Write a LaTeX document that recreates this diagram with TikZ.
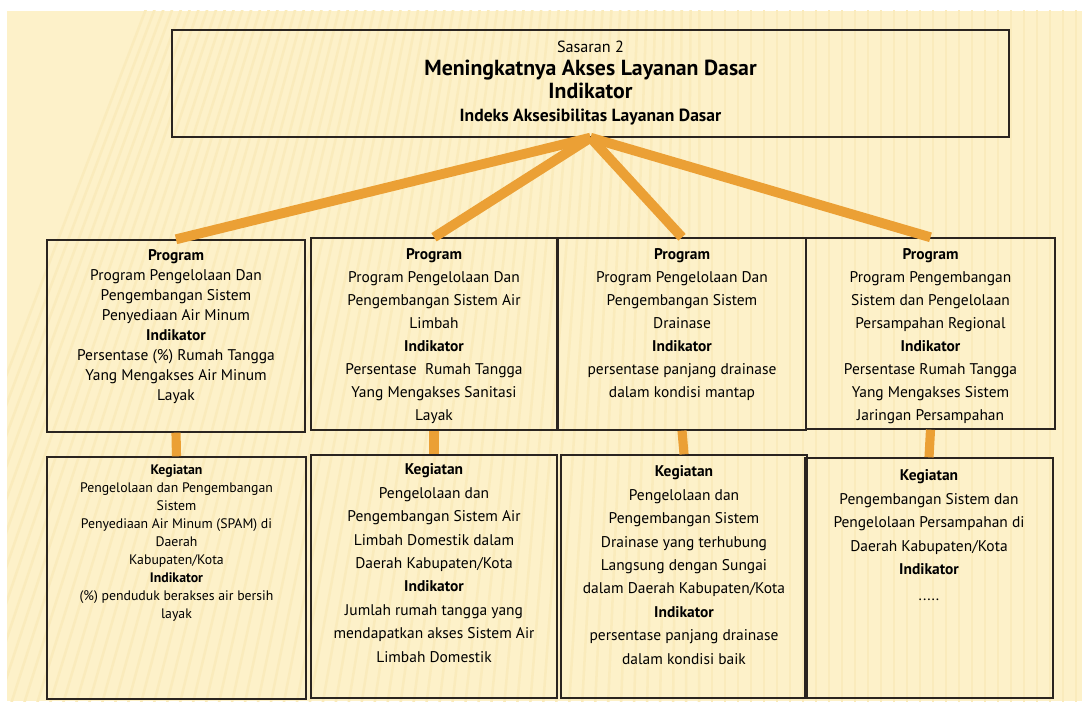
\documentclass[tikz,border=0pt]{standalone}
\usepackage{fontspec}
\setmainfont{PT Sans}
\usetikzlibrary{positioning}

\definecolor{cream}{HTML}{FDF1C9}
\definecolor{stripe}{HTML}{FAEBBC}
\definecolor{linkorange}{HTML}{EBA035}
\definecolor{boxline}{HTML}{2A2420}

\newdimen\px \px=0.025cm

\tikzset{
  box/.style={draw=boxline, line width=1pt, inner sep=0pt},
  link/.style={linkorange, line width=7pt},
  uplink/.style={linkorange, line width=6.5pt},
  prgtxt/.style={align=center, inner sep=0pt, font=\fontsize{11}{16.3}\selectfont},
  kgttxt/.style={align=center, inner sep=0pt, font=\fontsize{11}{16.7}\selectfont},
}

\begin{document}
\begin{tikzpicture}[x=1\px, y=-1\px]

%%%%%%%%%%%%%%%%%%%%%%%%%%%%%%%%%%%%%%%%%%%%%%%%%%%%%%%%%%%%%%%%%%%%%%%%%%%%%%%
%                                                                             %
%   Sasaran 2 with its four programs and the kegiatan under each program      %
%   (one pixel of the slide is one unit)                                      %
%                                                                             %
%%%%%%%%%%%%%%%%%%%%%%%%%%%%%%%%%%%%%%%%%%%%%%%%%%%%%%%%%%%%%%%%%%%%%%%%%%%%%%%

    %Slide background with its faint stripes
    \useasboundingbox (0,0) rectangle (1082,707);
    \fill[white] (0,0) rectangle (1082,707);
    \fill[cream] (7,11) rectangle (1082,701);
    \begin{scope}
        \clip (7,11) rectangle (1082,701);
        \foreach \i in {0,...,95} {
            \pgfmathsetmacro{\xb}{\i*13-120}
            \pgfmathsetmacro{\xt}{\xb+max(0,230*(1-\xb/700))}
            \draw[stripe, line width=1.8pt] (\xb,707) -- (\xt,0);
        }
    \end{scope}

    %Sasaran box
    \node[box, minimum width=837\px, minimum height=107\px] (sasaran) at (590.5,83.5) {};
    \node[align=center, inner sep=0pt, font=\fontsize{11.5}{16.5}\selectfont, below=11\px of sasaran.north] (sasarantxt)
        {Sasaran 2\\
         {\fontsize{15.5}{16.5}\selectfont\bfseries Meningkatnya Akses Layanan Dasar}\\
         {\fontsize{15.5}{16.5}\selectfont\bfseries Indikator}\\
         {\fontsize{12.5}{16.5}\selectfont\bfseries Indeks Aksesibilitas Layanan Dasar}};

    %Program boxes
    \node[box, minimum width=258\px, minimum height=192\px] (prog1) at (176,336) {};
    \node[box, minimum width=246\px, minimum height=192\px] (prog2) at (434,334) {};
    \node[box, minimum width=248\px, minimum height=192\px] (prog3) at (682,334) {};
    \node[box, minimum width=249\px, minimum height=191\px] (prog4) at (930.5,333.5) {};

    \node[prgtxt, font=\fontsize{11}{14.2}\selectfont, below=10\px of prog1.north] (prog1txt)
        {\textbf{Program}\\Program Pengelolaan Dan\\Pengembangan Sistem\\Penyediaan Air Minum\\
         \textbf{Indikator}\\Persentase (\%) Rumah Tangga\\Yang Mengakses Air Minum\\Layak};
    \node[prgtxt, below=11\px of prog2.north] (prog2txt)
        {\textbf{Program}\\Program Pengelolaan Dan\\Pengembangan Sistem Air\\Limbah\\
         \textbf{Indikator}\\Persentase~ Rumah Tangga\\Yang Mengakses Sanitasi\\Layak};
    \node[prgtxt, below=11\px of prog3.north] (prog3txt)
        {\textbf{Program}\\Program Pengelolaan Dan\\Pengembangan Sistem\\Drainase\\
         \textbf{Indikator}\\persentase panjang drainase\\dalam kondisi mantap};
    \node[prgtxt, below=11\px of prog4.north] (prog4txt)
        {\textbf{Program}\\Program Pengembangan\\Sistem dan Pengelolaan\\Persampahan Regional\\
         \textbf{Indikator}\\Persentase Rumah Tangga\\Yang Mengakses Sistem\\Jaringan Persampahan};

    %Kegiatan boxes
    \node[box, minimum width=259\px, minimum height=242\px] (kgt1) at (176.5,578) {};
    \node[box, minimum width=246\px, minimum height=243\px] (kgt2) at (434,576.5) {};
    \node[box, minimum width=246\px, minimum height=243\px] (kgt3) at (684,576.5) {};
    \node[box, minimum width=248\px, minimum height=240\px] (kgt4) at (929,578) {};

    \node[kgttxt, font=\fontsize{9.8}{12.8}\selectfont, below=8\px of kgt1.north] (kgt1txt)
        {\textbf{Kegiatan}\\Pengelolaan dan Pengembangan\\Sistem\\Penyediaan Air Minum (SPAM) di\\Daerah\\Kabupaten/Kota\\
         \textbf{Indikator}\\(\%) penduduk berakses air bersih\\layak};
    \node[kgttxt, below=9\px of kgt2.north] (kgt2txt)
        {\textbf{Kegiatan}\\Pengelolaan dan\\Pengembangan Sistem Air\\Limbah Domestik dalam\\Daerah Kabupaten/Kota\\
         \textbf{Indikator}\\Jumlah rumah tangga yang\\mendapatkan akses Sistem Air\\Limbah Domestik};
    \node[kgttxt, below=11\px of kgt3.north] (kgt3txt)
        {\textbf{Kegiatan}\\Pengelolaan dan\\Pengembangan Sistem\\Drainase yang terhubung\\Langsung dengan Sungai\\dalam Daerah Kabupaten/Kota\\
         \textbf{Indikator}\\persentase panjang drainase\\dalam kondisi baik};
    \node[kgttxt, below=12\px of kgt4.north] (kgt4txt)
        {\textbf{Kegiatan}\\Pengembangan Sistem dan\\Pengelolaan Persampahan di\\Daerah Kabupaten/Kota\\
         \textbf{Indikator}\\[2pt].....};

    %Links from the sasaran to the programs
    \draw[link] (sasaran.south) -- (prog1.north);
    \draw[link] (sasaran.south) -- (prog2.north);
    \draw[link] (sasaran.south) -- (prog3.north);
    \draw[link] (sasaran.south) -- (prog4.north);

    %Links from each program down to its kegiatan
    \draw[uplink] (prog1.south) -- (kgt1.north);
    \draw[uplink] (prog2.south) -- (kgt2.north);
    \draw[uplink] (prog3.south) -- (kgt3.north);
    \draw[uplink] (prog4.south) -- (kgt4.north);

\end{tikzpicture}
\end{document}
